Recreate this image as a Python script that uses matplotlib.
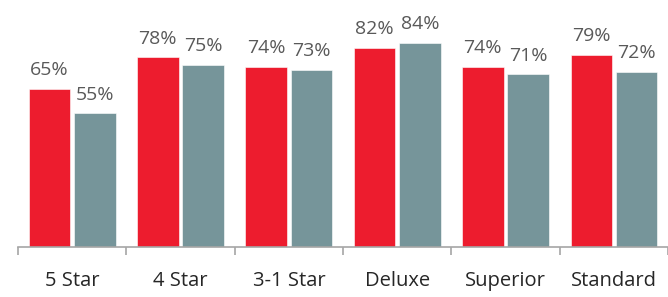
import numpy as np
import matplotlib
matplotlib.use("Agg")
import matplotlib.pyplot as plt

categories = ["5 Star", "4 Star", "3-1 Star", "Deluxe", "Superior", "Standard"]
red_vals = [65, 78, 74, 82, 74, 79]
grey_vals = [55, 75, 73, 84, 71, 72]

plt.rcParams['font.family'] = ['Open Sans', 'DejaVu Sans']

fig = plt.figure(figsize=(6.68, 2.97), dpi=100)
ax = fig.add_axes([18 / 668, 50 / 297, 650 / 668, 247 / 297])

x = np.arange(len(categories))
w = 0.382
off = w / 2 + 0.018
b1 = ax.bar(x - off, red_vals, w, color='#ED1C2E', edgecolor='white', linewidth=0.4)
b2 = ax.bar(x + off, grey_vals, w, color='#76959A', edgecolor='white', linewidth=0.4)

for bars, vals in ((b1, red_vals), (b2, grey_vals)):
    for b, v in zip(bars, vals):
        ax.annotate("{}%".format(v), (b.get_x() + b.get_width() / 2, v),
                    xytext=(0, 7), textcoords='offset points',
                    ha='center', va='bottom', fontsize=14, color='#595959')

ax.set_xlim(-0.5, 5.372)
ax.set_ylim(0, 101.6)
ax.set_yticks([])
for s in ('top', 'right', 'left'):
    ax.spines[s].set_visible(False)
ax.spines['bottom'].set_color('#A6A6A6')
ax.spines['bottom'].set_linewidth(1.2)

ax.set_xticks(x)
ax.set_xticklabels(categories, fontsize=14.5, color='#262626')
ax.tick_params(axis='x', which='major', length=0, pad=17)
ax.set_xticks(np.arange(-0.5, len(categories), 1.0), minor=True)
ax.tick_params(axis='x', which='minor', length=6, width=1.2, color='#A6A6A6', direction='out')

fig.savefig("out.png", dpi=100)
